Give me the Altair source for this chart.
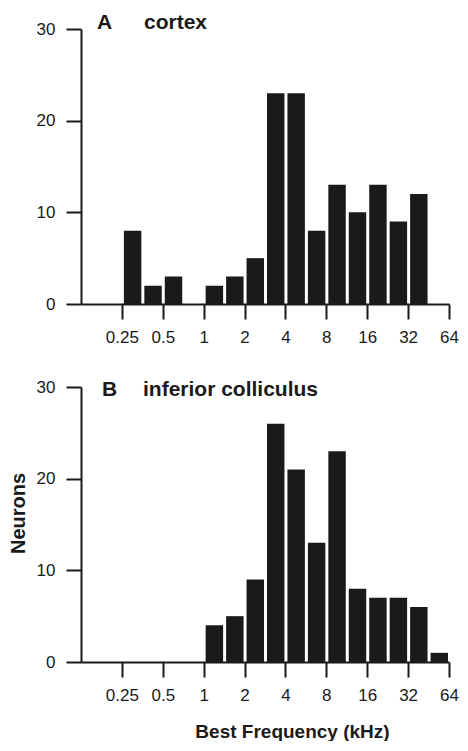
import altair as alt
import pandas as pd

# Half-octave bins, lower edge in octaves re 1 kHz (log2 kHz)
bin_start_oct = [-2, -1.5, -1, -0.5, 0, 0.5, 1, 1.5, 2, 2.5, 3, 3.5, 4, 4.5, 5, 5.5]
bin_width_oct = 0.5
cortex_counts = [8, 2, 3, 0, 2, 3, 5, 23, 23, 8, 13, 10, 13, 9, 12, 0]
ic_counts = [0, 0, 0, 0, 4, 5, 9, 26, 21, 13, 23, 8, 7, 7, 6, 1]

tick_oct = [-2, -1, 0, 1, 2, 3, 4, 5, 6]
tick_labels = ["0.25", "0.5", "1", "2", "4", "8", "16", "32", "64"]
y_ticks = [0, 10, 20, 30]

panel_letters = ["A", "B"]
panel_names = ["cortex", "inferior colliculus"]

FONT = "Liberation Sans"
INK = "#1a1a1a"

label_expr = ""
for v, t in zip(tick_oct, tick_labels):
    label_expr += f"datum.value == {v} ? '{t}' : "
label_expr += "''"


def panel(counts, letter, name, letter_x, name_x, text_y, show_xtitle, show_ytitle):
    df = pd.DataFrame({
        "lo": bin_start_oct,
        "hi": [b + bin_width_oct for b in bin_start_oct],
        "n": counts,
    })
    df = df[df["n"] > 0]
    x_axis = alt.Axis(
        values=tick_oct, labelExpr=label_expr, grid=False,
        tickSize=15, tickWidth=2, domainWidth=2, tickColor=INK, domainColor=INK,
        labelFont=FONT, labelFontSize=17, labelColor=INK, labelPadding=10,
        labelFlush=False,
        title="Best Frequency (kHz)" if show_xtitle else None,
        titleFont=FONT, titleFontSize=19, titleFontWeight="bold", titleColor=INK,
        titlePadding=19, titleX=211,
    )
    y_axis = alt.Axis(
        values=y_ticks, grid=False,
        tickSize=15, tickWidth=2, domainWidth=2, tickColor=INK, domainColor=INK,
        labelFont=FONT, labelFontSize=17, labelColor=INK, labelPadding=11,
        title="Neurons" if show_ytitle else None,
        titleFont=FONT, titleFontSize=20, titleFontWeight="bold", titleColor=INK,
        titlePadding=8, titleY=126,
    )
    bars = alt.Chart(df).mark_bar(color=INK, binSpacing=3).encode(
        x=alt.X("lo:Q", bin="binned",
                scale=alt.Scale(domain=[-3, 6], nice=False, zero=False),
                axis=x_axis),
        x2="hi:Q",
        y=alt.Y("n:Q", scale=alt.Scale(domain=[0, 30], nice=False), axis=y_axis),
    )
    tdf = pd.DataFrame({"letter": [letter], "name": [name]})
    t1 = alt.Chart(tdf).mark_text(
        font=FONT, fontSize=21, fontWeight="bold", color=INK,
        align="left", baseline="alphabetic",
    ).encode(x=alt.value(letter_x), y=alt.value(text_y), text="letter:N")
    t2 = alt.Chart(tdf).mark_text(
        font=FONT, fontSize=21, fontWeight="bold", color=INK,
        align="left", baseline="alphabetic",
    ).encode(x=alt.value(name_x), y=alt.value(text_y), text="name:N")
    return alt.layer(bars, t1, t2).properties(width=368, height=275)


pa = panel(cortex_counts, panel_letters[0], panel_names[0], 16, 63, 0, False, False)
pb = panel(ic_counts, panel_letters[1], panel_names[1], 21, 62, 9, True, True)

chart = alt.vconcat(pa, pb, spacing=33).properties(
    padding={"left": 0, "top": 4, "right": 0, "bottom": 0},
).configure_view(stroke=None)

chart.save("out.html", embed_options={"renderer": "svg", "actions": False})
